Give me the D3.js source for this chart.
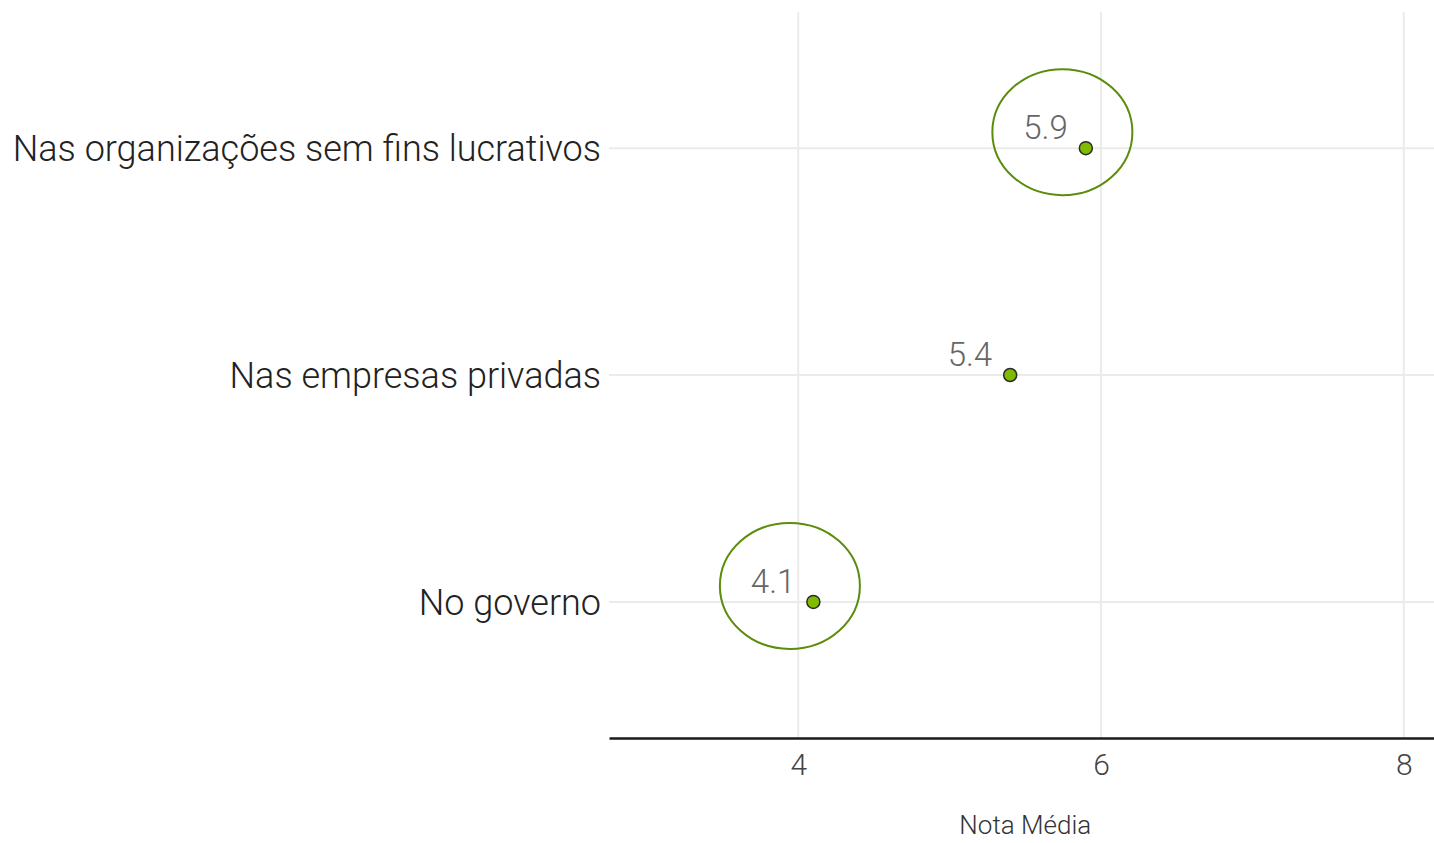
<!DOCTYPE html>
<html>
<head>
<meta charset="utf-8">
<script src="https://cdn.jsdelivr.net/npm/d3@7"></script>
<style>
  body { margin: 0; background: #fff; }
  text { font-family: Roboto, "Open Sans", sans-serif; font-weight: 300; }
</style>
</head>
<body>
<svg id="chart" width="1434" height="843"></svg>
<script>
// data
const categories = ["Nas organizações sem fins lucrativos", "Nas empresas privadas", "No governo"];
const values = [5.9, 5.4, 4.1];
const highlighted = ["Nas organizações sem fins lucrativos", "No governo"];
const xTicks = [4, 6, 8];
const xTitle = "Nota Média";

const data = categories.map((c, i) => ({ cat: c, value: values[i] }));

const svg = d3.select("#chart");
const width = +svg.attr("width");
const height = +svg.attr("height");
const margin = { top: 12, right: 0, bottom: 105, left: 609 };

const x = d3.scaleLinear()
  .domain([2.75, 8.2])
  .range([margin.left, width - margin.right]);

const y = d3.scalePoint()
  .domain(categories)
  .range([margin.top, height - margin.bottom])
  .padding(0.6);

// grid lines
svg.append("g")
  .selectAll("line")
  .data(xTicks)
  .join("line")
  .attr("x1", d => x(d))
  .attr("x2", d => x(d))
  .attr("y1", margin.top)
  .attr("y2", height - margin.bottom)
  .attr("stroke", "#ebebeb")
  .attr("stroke-width", 2);

svg.append("g")
  .selectAll("line")
  .data(categories)
  .join("line")
  .attr("x1", margin.left)
  .attr("x2", width - margin.right)
  .attr("y1", d => y(d))
  .attr("y2", d => y(d))
  .attr("stroke", "#ebebeb")
  .attr("stroke-width", 2);

// X axis
const xAxis = svg.append("g")
  .attr("transform", `translate(0, ${height - margin.bottom})`)
  .call(d3.axisBottom(x).tickValues(xTicks).tickFormat(d3.format("d")).tickSize(0).tickPadding(16));
xAxis.select(".domain")
  .attr("stroke", "#1a1a1a")
  .attr("stroke-width", 2.5);
xAxis.selectAll("text")
  .style("font-size", "30px")
  .style("font-family", "Roboto")
  .style("font-weight", 300)
  .attr("fill", "#444");

svg.append("text")
  .attr("x", x(5.5))
  .attr("y", height - 9)
  .attr("text-anchor", "middle")
  .style("font-size", "26px")
  .attr("fill", "#333")
  .text(xTitle);

// category labels
svg.append("g")
  .selectAll("text")
  .data(categories)
  .join("text")
  .attr("x", margin.left - 8)
  .attr("y", d => y(d))
  .attr("dy", "0.37em")
  .attr("text-anchor", "end")
  .style("font-size", "36px")
  .attr("fill", "#222")
  .text(d => d);

// highlight ellipses
svg.append("g")
  .selectAll("ellipse")
  .data(data.filter(d => highlighted.includes(d.cat)))
  .join("ellipse")
  .attr("cx", d => x(d.value - 0.155))
  .attr("cy", d => y(d.cat) - 16)
  .attr("rx", 70)
  .attr("ry", 63)
  .attr("fill", "none")
  .attr("stroke", "#5b8c0a")
  .attr("stroke-width", 2);

// value labels
svg.append("g")
  .selectAll("text")
  .data(data)
  .join("text")
  .attr("x", d => x(d.value) - 18)
  .attr("y", d => y(d.cat) - 9)
  .attr("text-anchor", "end")
  .style("font-size", "33px")
  .attr("fill", "#666")
  .text(d => d.value.toFixed(1));

// points
svg.append("g")
  .selectAll("circle")
  .data(data)
  .join("circle")
  .attr("cx", d => x(d.value))
  .attr("cy", d => y(d.cat))
  .attr("r", 6.5)
  .attr("fill", "#7fbc00")
  .attr("stroke", "#2b2b2b")
  .attr("stroke-width", 1.5);
</script>
</body>
</html>
